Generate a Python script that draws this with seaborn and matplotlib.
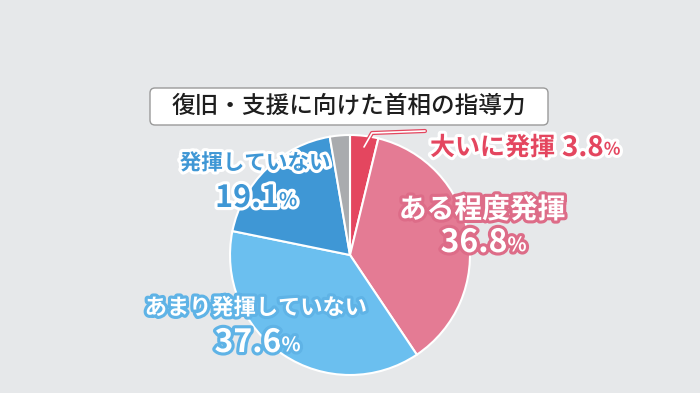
import matplotlib
matplotlib.use("Agg")
import matplotlib.pyplot as plt
import matplotlib.patheffects as pe
from matplotlib.patches import FancyBboxPatch
import seaborn as sns

# data
categories = ["大いに発揮", "ある程度発揮", "あまり発揮していない", "発揮していない", "その他"]
values = [3.8, 36.8, 37.6, 19.1, 2.7]
colors = ["#e4465f", "#e47b94", "#6bbfef", "#3f97d5", "#a9abae"]
title = "復旧・支援に向けた首相の指導力"

sns.set_style("white")
plt.rcParams["font.family"] = ["Noto Sans CJK JP", "DejaVu Sans"]

W, H = 700, 393
bg = "#e6e8ea"
fig = plt.figure(figsize=(7, 3.93), dpi=100, facecolor=bg)
ax = fig.add_axes([0, 0, 1, 1])
ax.set_facecolor(bg)


def Y(py):
    # pixel row -> data y
    return H - py


ax.pie(values, colors=colors, startangle=90, counterclock=False,
       center=(350, Y(255)), radius=120,
       wedgeprops=dict(edgecolor="white", linewidth=1.5))
ax.set_xlim(0, W)
ax.set_ylim(0, H)
ax.set_aspect("equal")
ax.axis("off")

# title box
ax.add_patch(FancyBboxPatch((150, Y(125)), 398, 37,
                            boxstyle="round,pad=0,rounding_size=5",
                            facecolor="white", edgecolor="#9a9a9a", linewidth=1))
ax.text(349, Y(106), title, ha="center", va="center", fontsize=17,
        color="#1e1e1e", fontweight="medium")


def label(x, y, name, val, fill, stroke, size, nsize, dy, inline=False):
    eff = [pe.withStroke(linewidth=4.5, foreground=stroke)]
    if inline:
        n = ax.text(x, Y(y), name, ha="left", va="center", fontsize=size,
                    color=fill, fontweight="bold", path_effects=eff)
        t = ax.annotate(val, xy=(1, 0.5), xycoords=n, xytext=(5, 0),
                        textcoords="offset points", ha="left", va="center",
                        fontsize=nsize, color=fill, fontweight="bold",
                        path_effects=eff)
    else:
        ax.text(x, Y(y), name, ha="center", va="center", fontsize=size,
                color=fill, fontweight="bold", path_effects=eff)
        t = ax.text(x - 8, Y(y + dy), val, ha="center", va="center", fontsize=nsize,
                    color=fill, fontweight="bold", path_effects=eff)
    ax.annotate("%", xy=(1, 0.12), xycoords=t, ha="left", va="bottom",
                fontsize=nsize * 0.62, color=fill, fontweight="bold",
                path_effects=eff)


label(430, 148, categories[0], f"{values[0]}", colors[0], "white", 18, 20, 0, inline=True)
label(482, 210, categories[1], f"{values[1]}", "white", "#dd6c88", 20, 23, 33)
label(256, 308, categories[2], f"{values[2]}", "white", "#5fb3e6", 16, 23, 35)
label(255, 163, categories[3], f"{values[3]}", colors[3], "white", 15.5, 22, 35)

# leader line for the small slice
ax.plot([364, 372, 425], [Y(147), Y(133), Y(131)], color="white", lw=1.2,
        path_effects=[pe.Stroke(linewidth=3, foreground=colors[0]), pe.Normal()])

fig.savefig("out.png", dpi=100, facecolor=bg)
